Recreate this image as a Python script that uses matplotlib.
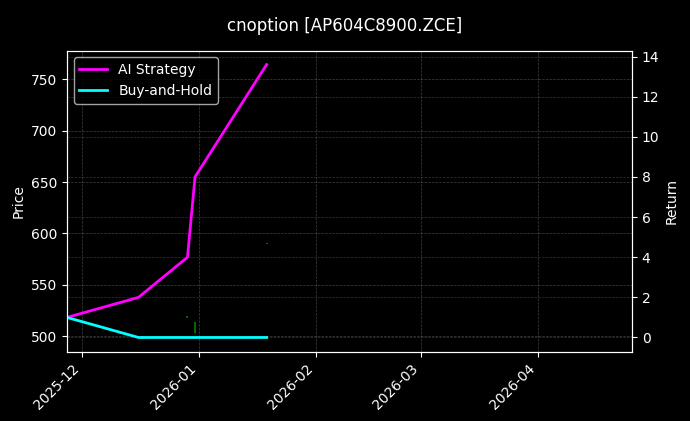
import numpy as np
import pandas as pd
import matplotlib.pyplot as plt
import matplotlib.dates as mdates

dates = pd.to_datetime(["2025-11-27", "2025-12-16", "2025-12-29", "2025-12-31", "2026-01-19"])
ai_return = [1.0, 2.0, 4.0, 8.0, 13.6]
bh_return = [1.0, 0.0, 0.0, 0.0, 0.0]

# tiny price candles (date, low, high)
candle_dates = pd.to_datetime(["2025-12-29", "2025-12-31", "2026-01-19"])
candle_low = [518, 503, 590]
candle_high = [520, 514, 591]

plt.style.use('dark_background')
fig = plt.figure(figsize=(6.9, 4.21), dpi=100)
ax = fig.add_axes([0.097, 0.165, 0.819, 0.715])
ax2 = ax.twinx()

ax.vlines(candle_dates, candle_low, candle_high, color='green', linewidth=1.2)
ax.set_ylim(485, 778)
ax.set_ylabel('Price')
ax.grid(True, linestyle='--', linewidth=0.5, color='gray', alpha=0.5)

ax2.plot(dates, ai_return, color='magenta', linewidth=2, label='AI Strategy')
ax2.plot(dates, bh_return, color='cyan', linewidth=2, label='Buy-and-Hold')
ax2.set_ylim(-0.7, 14.3)
ax2.set_ylabel('Return')
ax2.grid(True, axis='y', linestyle='--', linewidth=0.5, color='gray', alpha=0.4)
ax2.legend(loc='upper left')

ax.set_xlim(pd.Timestamp("2025-11-27"), pd.Timestamp("2026-04-26"))
ax.xaxis.set_major_locator(mdates.MonthLocator())
ax.xaxis.set_major_formatter(mdates.DateFormatter('%Y-%m'))
plt.setp(ax.get_xticklabels(), rotation=45, ha='right')

fig.suptitle('cnoption [AP604C8900.ZCE]', y=0.96)
fig.savefig('out.png')
